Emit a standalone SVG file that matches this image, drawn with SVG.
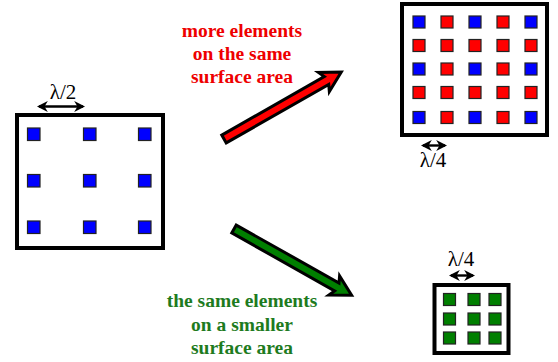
<svg xmlns="http://www.w3.org/2000/svg" width="558" height="362" viewBox="0 0 558 362">
<defs>
<style>
.box{fill:#fff;stroke:#000;stroke-width:4}
.b{fill:#0000ff;stroke:#222;stroke-width:1.2}
.r{fill:#ff0000;stroke:#222;stroke-width:1.2}
.g{fill:#007f00;stroke:#222;stroke-width:1.2}
.lam{font-family:"Liberation Serif","Times New Roman","DejaVu Serif",serif;font-size:21px;fill:#000;text-anchor:middle}
.lbl{font-family:"Liberation Serif","Times New Roman","DejaVu Serif",serif;font-size:19.5px;font-weight:bold;text-anchor:middle}
.dim{stroke:#000;stroke-width:2.4;fill:none;marker-start:url(#ah);marker-end:url(#ah)}
.big{stroke:#000;stroke-width:3;stroke-linejoin:miter}
</style>
<marker id="ah" viewBox="0 0 10 10" refX="8" refY="5" markerWidth="4.6" markerHeight="4.6" orient="auto-start-reverse" markerUnits="strokeWidth">
<path d="M0,0 L10,5 L0,10 L3,5 Z" fill="#000"/>
</marker>
</defs>

<g id="array-left">
<rect class="box" x="17" y="115" width="146" height="133"/>
<rect class="b" x="27.5" y="128" width="12.5" height="12.5"/>
<rect class="b" x="83.5" y="128" width="12.5" height="12.5"/>
<rect class="b" x="138.5" y="128" width="12.5" height="12.5"/>
<rect class="b" x="27.5" y="174.5" width="12.5" height="12.5"/>
<rect class="b" x="83.5" y="174.5" width="12.5" height="12.5"/>
<rect class="b" x="138.5" y="174.5" width="12.5" height="12.5"/>
<rect class="b" x="27.5" y="221" width="12.5" height="12.5"/>
<rect class="b" x="83.5" y="221" width="12.5" height="12.5"/>
<rect class="b" x="138.5" y="221" width="12.5" height="12.5"/>
<line class="dim" x1="39" y1="106.5" x2="83" y2="106.5"/>
<text class="lam" font-family="Liberation Serif, serif" x="63" y="99">λ/2</text>
</g>

<g id="array-dense">
<rect class="box" x="402" y="4" width="145" height="131"/>
<rect class="b" x="413" y="16" width="12" height="12"/>
<rect class="r" x="441" y="16" width="12" height="12"/>
<rect class="b" x="469" y="16" width="12" height="12"/>
<rect class="r" x="497" y="16" width="12" height="12"/>
<rect class="b" x="525" y="16" width="12" height="12"/>
<rect class="r" x="413" y="39.5" width="12" height="12"/>
<rect class="r" x="441" y="39.5" width="12" height="12"/>
<rect class="r" x="469" y="39.5" width="12" height="12"/>
<rect class="r" x="497" y="39.5" width="12" height="12"/>
<rect class="r" x="525" y="39.5" width="12" height="12"/>
<rect class="b" x="413" y="63" width="12" height="12"/>
<rect class="r" x="441" y="63" width="12" height="12"/>
<rect class="b" x="469" y="63" width="12" height="12"/>
<rect class="r" x="497" y="63" width="12" height="12"/>
<rect class="b" x="525" y="63" width="12" height="12"/>
<rect class="r" x="413" y="86.5" width="12" height="12"/>
<rect class="r" x="441" y="86.5" width="12" height="12"/>
<rect class="r" x="469" y="86.5" width="12" height="12"/>
<rect class="r" x="497" y="86.5" width="12" height="12"/>
<rect class="r" x="525" y="86.5" width="12" height="12"/>
<rect class="b" x="413" y="111.5" width="12" height="12"/>
<rect class="r" x="441" y="111.5" width="12" height="12"/>
<rect class="b" x="469" y="111.5" width="12" height="12"/>
<rect class="r" x="497" y="111.5" width="12" height="12"/>
<rect class="b" x="525" y="111.5" width="12" height="12"/>
<line class="dim" x1="423" y1="145.5" x2="445" y2="145.5"/>
<text class="lam" font-family="Liberation Serif, serif" x="433" y="167">λ/4</text>
</g>

<g id="array-small">
<rect class="box" x="434.5" y="285" width="74" height="68"/>
<rect class="g" x="443.5" y="293.5" width="12" height="12"/>
<rect class="g" x="468" y="293.5" width="12" height="12"/>
<rect class="g" x="489" y="293.5" width="12" height="12"/>
<rect class="g" x="443.5" y="313" width="12" height="12"/>
<rect class="g" x="468" y="313" width="12" height="12"/>
<rect class="g" x="489" y="313" width="12" height="12"/>
<rect class="g" x="443.5" y="332" width="12" height="12"/>
<rect class="g" x="468" y="332" width="12" height="12"/>
<rect class="g" x="489" y="332" width="12" height="12"/>
<line class="dim" x1="451" y1="275.5" x2="473" y2="275.5"/>
<text class="lam" font-family="Liberation Serif, serif" x="461" y="266">λ/4</text>
</g>

<g id="connectors">
<polygon class="big" fill="#ff0000" transform="translate(224,139) rotate(-29.7)" points="0,-4.5 118,-4.5 115,-11 135,0 115,11 118,4.5 0,4.5"/>
<polygon class="big" fill="#007f00" transform="translate(234,229) rotate(29.4)" points="0,-4.5 118,-4.5 115,-11 135,0 115,11 118,4.5 0,4.5"/>
</g>

<g id="label-more" fill="#ee0000">
<text class="lbl" font-family="Liberation Serif, serif" x="242" y="37">more elements</text>
<text class="lbl" font-family="Liberation Serif, serif" x="242" y="60">on the same</text>
<text class="lbl" font-family="Liberation Serif, serif" x="242" y="83">surface area</text>
</g>
<g id="label-same" fill="#1e7b1e">
<text class="lbl" font-family="Liberation Serif, serif" x="242" y="307">the same elements</text>
<text class="lbl" font-family="Liberation Serif, serif" x="242" y="331">on a smaller</text>
<text class="lbl" font-family="Liberation Serif, serif" x="242" y="354">surface area</text>
</g>
</svg>
